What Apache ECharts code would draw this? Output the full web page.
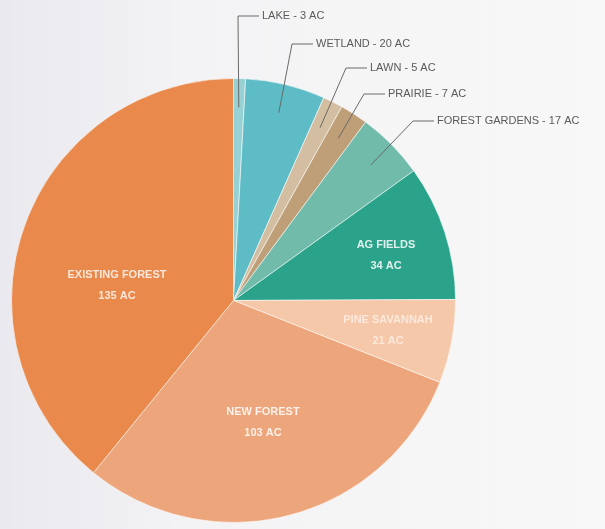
<!DOCTYPE html>
<html><head><meta charset="utf-8">
<script src="https://cdn.jsdelivr.net/npm/echarts@6/dist/echarts.min.js"></script>
<style>html,body{margin:0;padding:0;background:#f4f4f4;}#c{width:605px;height:529px;}</style>
</head><body><div id="c"></div>
<script>
const categories = ['LAKE','WETLAND','LAWN','PRAIRIE','FOREST GARDENS','AG FIELDS','PINE SAVANNAH','NEW FOREST','EXISTING FOREST'];
const acres = [3,20,5,7,17,34,21,103,135];
const unit = 'AC';
const colors = ['#98d1d4','#5dbcc6','#d3bea2','#bf9f78','#70bbaa','#2ba38a','#f5c8a9','#eda57b','#e9894b'];
const outsideLabel = [true,true,true,true,true,false,false,false,false];
const innerLabelColor = ['','','','','','rgba(255,255,255,0.85)','rgba(255,255,255,0.6)','rgba(255,255,255,0.85)','rgba(255,255,255,0.8)'];
// label anchor positions (layout, px)
const labelPos = [[262,16],[316,44],[370,68],[388,94],[437,121],[386,255],[388,330],[263,422],[117,285]];

const CX = 0.386, CY = 0.568, R = 222;
const chart = echarts.init(document.getElementById('c'));
const W = chart.getWidth(), H = chart.getHeight();

const baseData = categories.map((n, i) => ({ name: n, value: acres[i], itemStyle: { color: colors[i] } }));

const labelData = categories.map((n, i) => {
  const item = { name: n, value: acres[i] };
  if (outsideLabel[i]) {
    item.label = { position: 'outside', formatter: '{b} - {c} ' + unit, color: '#5a5a5a', fontSize: 11 };
    item.labelLine = { show: true, lineStyle: { color: '#6a6a6a', width: 1 } };
  } else {
    item.label = { position: 'inside', formatter: '{b}\n{c} ' + unit, color: innerLabelColor[i], fontSize: 11, fontWeight: 'bold', lineHeight: 21 };
    item.labelLine = { show: false };
  }
  return item;
});

const common = {
  type: 'pie',
  center: [(CX * 100) + '%', (CY * 100) + '%'],
  radius: [0, R],
  startAngle: 90,
  clockwise: true,
  avoidLabelOverlap: false,
  emphasis: { disabled: true }
};

chart.setOption({
  backgroundColor: {
    type: 'linear', x: 0, y: 0, x2: 1, y2: 0,
    colorStops: [{ offset: 0, color: '#e9e9ef' }, { offset: 0.3, color: '#f3f3f5' }, { offset: 1, color: '#f8f8f8' }]
  },
  animation: false,
  series: [
    Object.assign({}, common, {
      z: 2,
      itemStyle: { borderColor: 'rgba(255,255,255,0.55)', borderWidth: 1 },
      label: { show: false },
      labelLine: { show: false },
      data: baseData
    }),
    Object.assign({}, common, {
      z: 5,
      silent: true,
      itemStyle: { color: 'rgba(0,0,0,0)', borderWidth: 0 },
      label: { fontFamily: 'Liberation Sans, Arial, sans-serif' },
      labelLayout: function (p) {
        const i = p.dataIndex;
        const pos = labelPos[i];
        if (outsideLabel[i]) {
          const cx = W * CX, cy = H * CY;
          const e = (p.labelLinePoints && p.labelLinePoints[0]) || [cx, cy];
          const k = 0.87;
          const s = [cx + (e[0] - cx) * k, cy + (e[1] - cy) * k];
          return { x: pos[0], y: pos[1], align: 'left', verticalAlign: 'middle',
            labelLinePoints: [s, [pos[0] - 24, pos[1]], [pos[0] - 3, pos[1]]] };
        }
        return { x: pos[0], y: pos[1], align: 'center', verticalAlign: 'middle' };
      },
      data: labelData
    })
  ]
});
</script>
</body></html>
